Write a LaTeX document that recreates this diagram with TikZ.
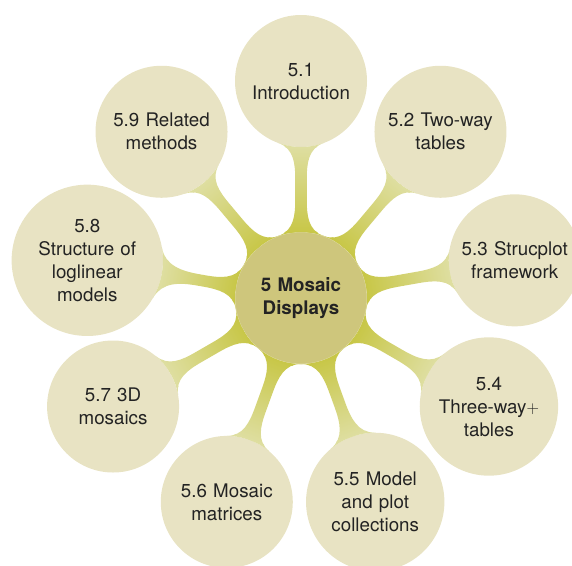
\documentclass[tikz,border=0pt]{standalone}
\usepackage{fontspec}
\setmainfont{TeX Gyre Heros}
\usetikzlibrary{mindmap}
\definecolor{rootfill}{RGB}{206,198,124}
\definecolor{childfill}{RGB}{232,227,195}
\definecolor{barroot}{RGB}{200,199,72}
\definecolor{barchild}{RGB}{222,222,160}
\definecolor{txt}{RGB}{35,35,35}
\tikzset{
  rootc/.style={circle, minimum size=132pt, inner sep=5pt, text width=110pt,
    align=center, fill=rootfill, draw=white!55!rootfill, line width=0.6pt, text=txt,
    font=\fontsize{18.75}{23}\selectfont\bfseries},
  childc/.style={circle, minimum size=132pt, inner sep=5pt, text width=110pt,
    align=center, fill=childfill, draw=none, text=txt,
    font=\fontsize{18.75}{23}\selectfont}
}
\begin{document}
\begin{tikzpicture}[x=1pt,y=1pt]
\useasboundingbox (0,0) rectangle (572,-565);
\path[mindmap, concept color=barroot, text=txt,
  level 1/.append style={level distance=217pt, sibling angle=40}]
  node[concept, rootc] (root) at (301,-298) {5 Mosaic\\Displays}
  [clockwise from=90, level distance=217pt, sibling angle=40]
  child[concept color=barchild] {node[concept, childc] (s1) {5.1\\Introduction}}
  child[concept color=barchild] {node[concept, childc] (s2) {5.2 Two-way\\tables}}
  child[concept color=barchild] {node[concept, childc] (s3) {5.3 Strucplot\\framework}}
  child[concept color=barchild] {node[concept, childc] (s4) {5.4\\Three-way$+$\\tables}}
  child[concept color=barchild] {node[concept, childc] (s5) {5.5 Model\\and plot\\collections}}
  child[concept color=barchild] {node[concept, childc] (s6) {5.6 Mosaic\\matrices}}
  child[concept color=barchild] {node[concept, childc] (s7) {5.7 3D\\mosaics}}
  child[concept color=barchild] {node[concept, childc] (s8) {5.8\\Structure of\\loglinear\\models}}
  child[concept color=barchild] {node[concept, childc] (s9) {5.9 Related\\methods}};
\end{tikzpicture}
\end{document}
